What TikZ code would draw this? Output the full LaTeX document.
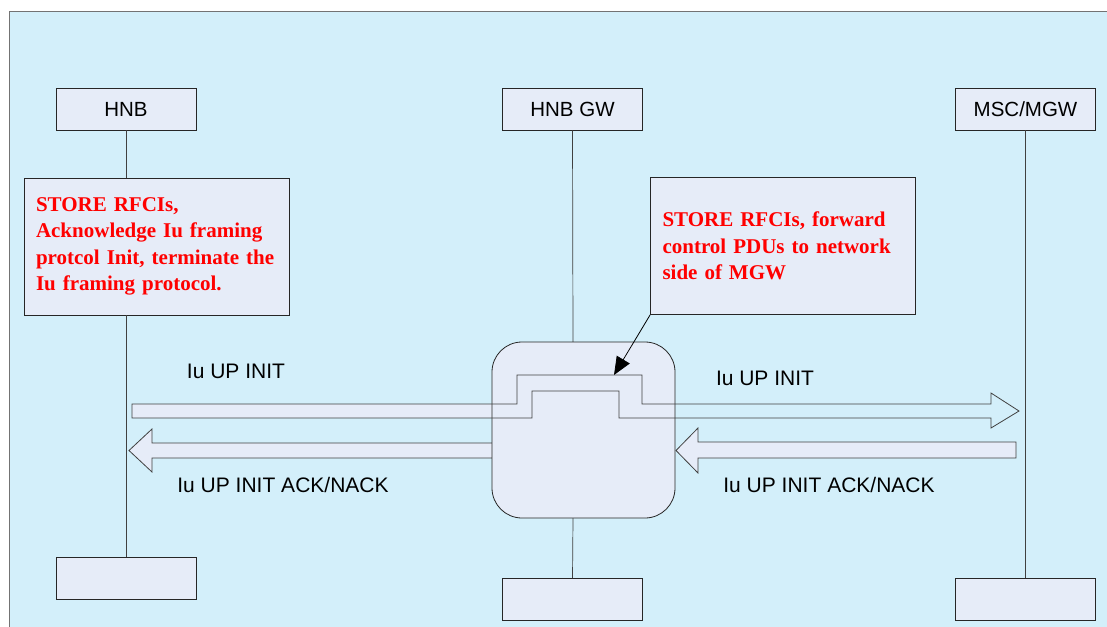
\documentclass[tikz,border=0pt]{standalone}
\usepackage{fontspec}
\setmainfont{Liberation Serif}
\setsansfont{Liberation Sans}
\usetikzlibrary{arrows.meta,positioning}
\definecolor{bgblue}{RGB}{211,239,250}
\definecolor{boxfill}{RGB}{230,236,248}
\definecolor{notered}{RGB}{255,0,0}

\begin{document}
\begin{tikzpicture}[x=1pt,y=-1pt]
	\tikzstyle{entity}=[draw=black!85, line width=0.8pt, fill=boxfill, minimum width=140pt, minimum height=42pt, inner sep=0pt, font=\sffamily\fontsize{20.5}{24}\selectfont]
	\tikzstyle{note}=[draw=black!85, line width=0.8pt, fill=boxfill, text width=241pt, inner sep=12pt, minimum height=137pt, align=left, text=notered, font=\rmfamily\bfseries\fontsize{21}{26.5}\selectfont]
	\tikzstyle{relay}=[draw=black!85, line width=0.8pt, fill=boxfill, rounded corners=30pt, minimum width=183pt, minimum height=176pt]
	\tikzstyle{msg}=[inner sep=0pt, font=\sffamily\fontsize{21}{24}\selectfont]
	\tikzstyle{life}=[draw=black!75, line width=0.7pt]
	\tikzstyle{block}=[draw=black!75, line width=0.8pt, line join=miter]
	\useasboundingbox (0,0) rectangle (1107,626);
	% frame
	\draw [black!55, line width=1pt, fill=bgblue] (9,12) rectangle (1120,640);
	% entities
	\node [entity] (hnb) at (126,109) {HNB};
	\node [entity] (gw) at (572.5,109) {HNB GW};
	\node [entity] (msc) at (1025.5,109) {MSC/MGW};
	\node [entity] (hnbEnd) at (126,578.5) {};
	\node [entity] (gwEnd) at (572.5,599.5) {};
	\node [entity] (mscEnd) at (1025.5,599.5) {};
	% notes
	\node [note] (storeL) at (156.5,246.5) {STORE RFCIs,\\Acknowledge Iu framing\\protcol Init, terminate the\\Iu framing protocol.};
	\node [note] (storeR) at (783,246) {STORE RFCIs, forward\\control PDUs to network\\side of MGW};
	% lifelines
	\draw [life] (hnb.south) -- (hnb.south |- storeL.north);
	\draw [life] (hnbEnd.north |- storeL.south) -- (hnbEnd.north);
	\draw [life] (gw.south) -- (573,342);
	\draw [life] (573,518) -- (gwEnd.north);
	\draw [life] (msc.south) -- (mscEnd.north);
	% ack arrows
	\draw [block, fill=boxfill] (496,443) -- (152,443) -- (152,429) -- (129,450.5) -- (152,472) -- (152,458) -- (496,458) -- cycle;
	\draw [block, fill=boxfill] (1016,442) -- (698,442) -- (698,428) -- (676,450.5) -- (698,473) -- (698,458) -- (1016,458) -- cycle;
	\fill [boxfill] (132,404) rectangle (492,418);
	% relay in the gateway
	\node [relay] (relay) at (583.5,430) {};
	% init arrow
	\draw [block] (132,404) -- (517,404) -- (517,375) -- (642,375) -- (642,404) -- (991,404) -- (991,393) -- (1019,411) -- (991,428) -- (991,418) -- (619,418) -- (619,391) -- (532,391) -- (532,418) -- (132,418) -- cycle;
	\coordinate (bump) at (614,375);
	\draw [black, line width=0.8pt, -{Triangle[length=18pt,width=15pt]}] (storeR.south west) -- (bump);
	% labels
	\node [msg] (initL) at (236,371) {Iu UP INIT};
	\node [msg] (initR) at (765,378) {Iu UP INIT};
	\node [msg] (ackL) at (283,485) {Iu UP INIT ACK/NACK};
	\node [msg] (ackR) at (829,485) {Iu UP INIT ACK/NACK};
\end{tikzpicture}
\end{document}
